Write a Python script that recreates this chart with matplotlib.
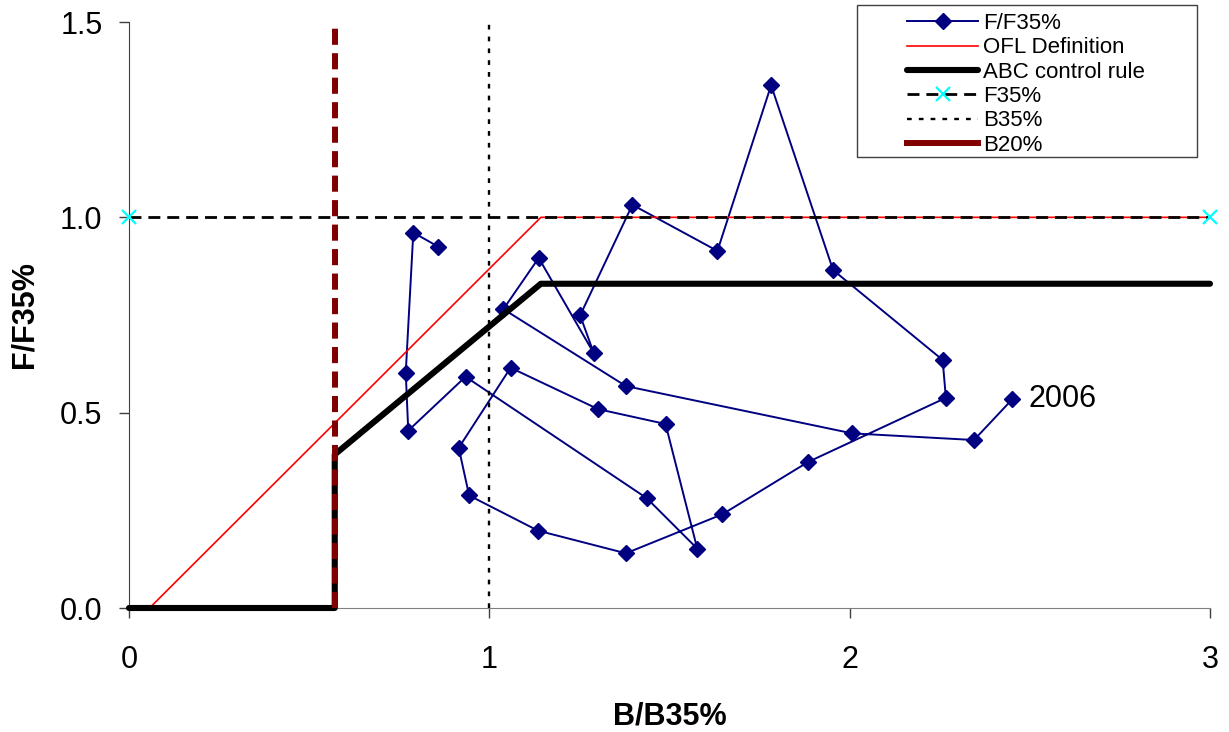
import matplotlib
matplotlib.use('Agg')
import matplotlib.pyplot as plt
from matplotlib.lines import Line2D
from matplotlib.patches import Rectangle
from matplotlib.ticker import FormatStrFormatter

plt.rcParams['font.family'] = ['Liberation Sans', 'DejaVu Sans']

# stock trajectory, one point per year (1977-2006)
b_ratio = [0.858, 0.789, 0.768, 0.775, 0.934, 1.437, 1.577, 1.489, 1.302, 1.059,
           0.915, 0.944, 1.135, 1.379, 1.647, 1.885, 2.267, 2.258, 1.954, 1.782,
           1.633, 1.397, 1.252, 1.290, 1.137, 1.039, 1.379, 2.007, 2.345, 2.451]
f_ratio = [0.925, 0.961, 0.602, 0.454, 0.592, 0.281, 0.152, 0.471, 0.509, 0.615,
           0.410, 0.288, 0.198, 0.140, 0.240, 0.374, 0.538, 0.635, 0.865, 1.338,
           0.914, 1.032, 0.749, 0.652, 0.896, 0.765, 0.568, 0.447, 0.430, 0.534]
last_year = '2006'

# harvest control rule break points
ofl_x = [0.057, 1.143, 3.0]
ofl_y = [0.0, 1.0, 1.0]
abc_x = [0.0, 0.571, 0.571, 1.143, 3.0]
abc_y = [0.0, 0.0, 0.393, 0.83, 0.83]

# reference points
f35_x = [0.0, 3.0]
f35_y = [1.0, 1.0]
b35_x = [1.0, 1.0]
b35_y = [0.0, 1.5]
b20_x = [0.571, 0.571]
b20_y = [0.0, 1.5]

W, H = 1229, 732
fig = plt.figure(figsize=(W / 100, H / 100), dpi=100)
ax = fig.add_axes([129 / W, 1 - 608 / H, (1210 - 129) / W, (608 - 22) / H])

navy = '#000080'
ax.plot(b_ratio, f_ratio, color=navy, lw=1.4, marker='D', markersize=8,
        markerfacecolor=navy, markeredgecolor=navy, zorder=2, clip_on=False)
ax.plot(ofl_x, ofl_y, color='red', lw=1.2, zorder=3)
ax.plot(abc_x, abc_y, color='black', lw=4.4, solid_joinstyle='round',
        solid_capstyle='round', zorder=4, clip_on=False)
ax.plot(f35_x, f35_y, color='black', lw=2.0, dashes=(4.3, 2.5), marker='x',
        markersize=10, markeredgecolor='cyan', markeredgewidth=1.6, zorder=5, clip_on=False)
ax.plot(b35_x, b35_y, color='black', lw=1.7, dashes=(2.0, 3.0), zorder=6)
ax.plot(b20_x, b20_y, color='#800000', lw=4.3, dashes=(2.7, 1.4), zorder=7)

ax.annotate(last_year, xy=(b_ratio[-1], f_ratio[-1]), xytext=(12, 0),
            textcoords='offset points', va='center', ha='left', fontsize=22)

ax.set_xlim(0, 3)
ax.set_ylim(0, 1.5)
ax.set_xticks([0, 1, 2, 3])
ax.set_yticks([0, 0.5, 1.0, 1.5])
ax.yaxis.set_major_formatter(FormatStrFormatter('%.1f'))
ax.tick_params(axis='both', direction='out', length=7, width=1, color='#404040',
               labelsize=22)
ax.tick_params(axis='y', pad=12)
ax.tick_params(axis='x', pad=20)
for side in ['top', 'right']:
    ax.spines[side].set_visible(False)
ax.spines['left'].set_color('#404040')
ax.spines['bottom'].set_color('#808080')

ax.set_xlabel('B/B35%', fontsize=22, fontweight='bold', labelpad=19)
ax.set_ylabel('F/F35%', fontsize=22, fontweight='bold', labelpad=15)

handles = [
    Line2D([], [], color=navy, lw=1.4, marker='D', markersize=8),
    Line2D([], [], color='red', lw=1.2),
    Line2D([], [], color='black', lw=4.4, solid_capstyle='round'),
    Line2D([], [], color='black', lw=2.0, dashes=(4.3, 2.5), marker='x',
           markersize=10, markeredgecolor='cyan', markeredgewidth=1.6),
    Line2D([], [], color='black', lw=1.7, dashes=(2.0, 3.0)),
    Line2D([], [], color='#800000', lw=4.3),
]
labels = ['F/F35%', 'OFL Definition', 'ABC control rule', 'F35%', 'B35%', 'B20%']
fig.legend(handles, labels, loc='upper left', bbox_to_anchor=(907 / W, 1 - 13 / H),
           frameon=False, fontsize=16, handlelength=3.2, handletextpad=0.22,
           labelspacing=0.15, borderpad=0, borderaxespad=0, numpoints=1)
fig.add_artist(Rectangle((857 / W, 1 - 157 / H), (1197 - 857) / W, (157 - 5) / H,
                         transform=fig.transFigure, fill=False,
                         edgecolor='#404040', lw=1))

fig.savefig('out.png', dpi=100)
